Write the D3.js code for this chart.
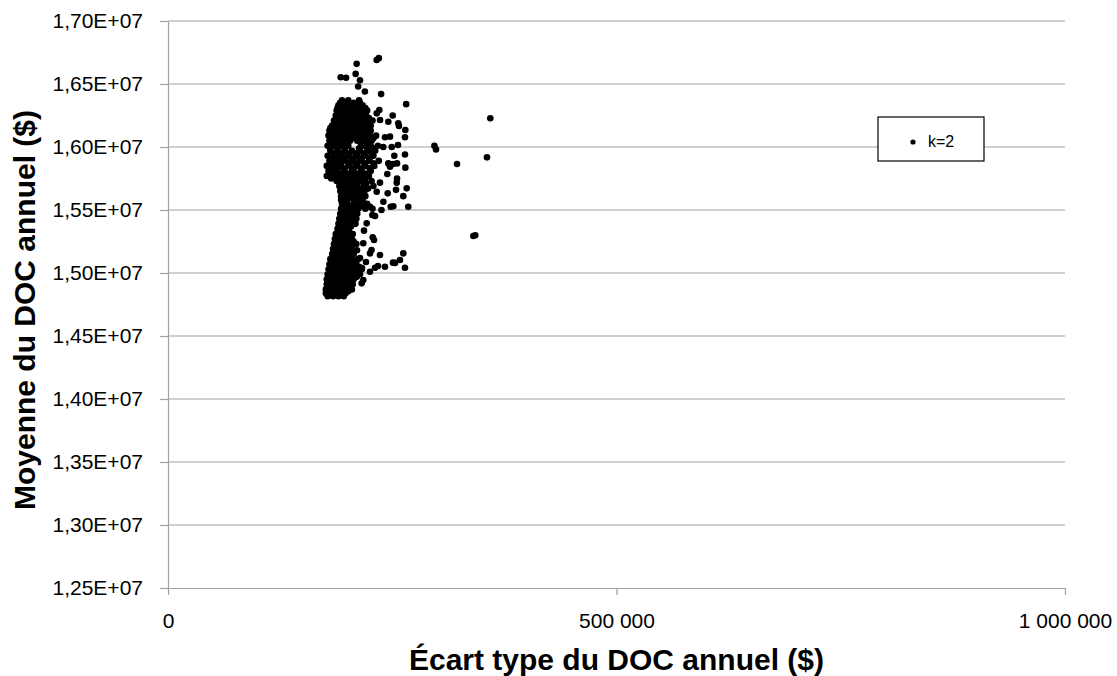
<!DOCTYPE html>
<html>
<head>
<meta charset="utf-8">
<script src="https://cdn.jsdelivr.net/npm/d3@7"></script>
<style>
  body { margin: 0; background: #fff; }
  svg { display: block; font-family: "Liberation Sans", Arial, sans-serif; }
</style>
</head>
<body>
<script>
// axis ticks
var yTicks = [12.5e6, 13.0e6, 13.5e6, 14.0e6, 14.5e6, 15.0e6, 15.5e6, 16.0e6, 16.5e6, 17.0e6]
var xTicks = [0, 500000, 1000000]
var seriesName = "k=2"

// points: [ecart type (k$), moyenne (M$)]
var outliers = [
  [232.6, 16.69], [235, 16.705], [210.3, 16.66], [192.5, 16.553], [198.5, 16.55],
  [209.2, 16.58], [214, 16.53], [212, 16.48], [219.5, 16.44], [237.6, 16.42],
  [265.5, 16.34], [359.3, 16.228], [297, 16.01], [298.8, 15.98], [322.2, 15.865],
  [355.6, 15.918], [340.4, 15.294], [342.6, 15.30]
]

var rightSpread = [
  [264.6, 16.135], [256.7, 16.188], [257.5, 16.167], [250.5, 16.25], [245.6, 16.20],
  [235.6, 16.294], [232.7, 16.267], [236.4, 16.214], [247.5, 16.082], [241.9, 16.077],
  [249.4, 16.00], [240, 16.00], [264.2, 16.077], [256.4, 16.016], [264.2, 15.94],
  [252.3, 15.93], [255.3, 15.87], [250.8, 15.865], [264.6, 15.836], [245.6, 15.87],
  [247.5, 15.844], [244.5, 15.786], [255.3, 15.75], [255, 15.717], [266.1, 15.672],
  [262.3, 15.61], [254.2, 15.66], [244.9, 15.632], [236.3, 15.717], [232.7, 15.645],
  [240.1, 15.566], [248.3, 15.526], [251.2, 15.53], [267.9, 15.526], [238, 15.50],
  [227.8, 15.46], [230.8, 15.452], [225.2, 15.526], [221.5, 15.394], [218.5, 15.336],
  [228.2, 15.283], [229.7, 15.262], [217.7, 15.236], [226.9, 15.183], [225.2, 15.156],
  [236.3, 15.143], [241.9, 15.05], [253.1, 15.08], [250.8, 15.082], [262.3, 15.156],
  [264.2, 15.042], [258.6, 15.103], [234.1, 15.055], [230.8, 15.042], [225.2, 15.01],
  [215.9, 14.918], [217.7, 14.944], [210.3, 14.97], [220.7, 15.087], [214, 15.119],
  [210.7, 15.18], [216.3, 15.04]
]

// dense upper part, row by row: [moyenne (M$), ecarts types (k$)]
var upperRows = [
  [16.37, [194, 201, 213]],
  [16.35, [192, 199, 207, 214]],
  [16.33, [190, 196, 203, 210, 217]],
  [16.31, [189, 199, 206, 213, 220]],
  [16.29, [188, 195, 202, 209, 216, 222]],
  [16.27, [190, 197, 204, 211, 218]],
  [16.25, [187, 194, 200, 207, 214, 221]],
  [16.23, [188, 196, 203, 210, 217, 224]],
  [16.21, [185, 192, 199, 206, 213, 221, 228]],
  [16.19, [187, 194, 201, 208, 215, 223]],
  [16.17, [183, 190, 197, 204, 211, 219, 226]],
  [16.15, [181, 186, 194, 200, 207, 215, 222]],
  [16.13, [180, 187, 195, 203, 211, 218, 226]],
  [16.11, [183, 191, 199, 207, 214, 222]],
  [16.09, [179, 186, 193, 201, 209, 217, 225, 232]],
  [16.07, [182, 190, 197, 205, 213, 221, 229]],
  [16.05, [180, 187, 195, 203, 211, 219, 227]],
  [16.03, [183, 191, 199, 215, 223]],
  [16.01, [178, 185, 193, 201, 218, 226, 234]],
  [15.99, [181, 189, 197, 213, 222, 230]],
  [15.97, [181, 189, 197, 205, 214, 223, 231]],
  [15.95, [185, 193, 201, 209, 218, 227]],
  [15.93, [178, 186, 194, 202, 211, 220, 229]],
  [15.91, [182, 190, 198, 207, 216, 225]],
  [15.89, [180, 188, 196, 205, 214, 224, 235]],
  [15.87, [184, 192, 201, 209, 219, 229]],
  [15.85, [177, 185, 193, 202, 211, 220, 230]],
  [15.83, [181, 189, 197, 207, 216, 225]],
  [15.81, [179, 187, 196, 205, 215, 226]],
  [15.79, [183, 191, 200, 210, 220]],
  [15.77, [177, 186, 195, 204, 214, 224]],
  [15.75, [182, 192, 201, 210, 220]],
  [15.73, [188, 197, 206, 216, 227]],
  [15.71, [193, 202, 211, 221]],
  [15.69, [191, 199, 208, 218, 229]],
  [15.67, [195, 204, 213, 223]],
  [15.65, [192, 200, 209, 219]],
  [15.63, [196, 205, 214]],
  [15.61, [193, 201, 210, 220]],
  [15.595, [197, 205, 213]],
  [15.58, [193, 200, 208, 217]]
]

// stem and bottom blob
var lowerRows = [
  [15.55, [194, 200, 207, 214, 222]],
  [15.53, [197, 203, 210, 217]],
  [15.51, [193, 199, 205, 212, 220, 228]],
  [15.49, [196, 202, 208]],
  [15.47, [192, 198, 204, 211]],
  [15.45, [194, 200, 207]],
  [15.43, [191, 197, 203, 210]],
  [15.41, [193, 199, 205]],
  [15.39, [190, 196, 202, 209]],
  [15.37, [192, 198, 204]],
  [15.35, [189, 195, 201]],
  [15.33, [190, 196, 202]],
  [15.31, [187, 193, 199, 206]],
  [15.29, [189, 195, 201]],
  [15.27, [186, 192, 198, 205]],
  [15.25, [188, 194, 200, 207]],
  [15.23, [185, 191, 197, 203, 210]],
  [15.21, [187, 193, 199, 205]],
  [15.19, [184, 190, 196, 202]],
  [15.17, [186, 192, 198, 204]],
  [15.15, [183, 189, 195, 201, 207]],
  [15.13, [185, 191, 197, 203]],
  [15.11, [181, 187, 193, 199, 205, 212]],
  [15.09, [183, 189, 195, 201, 207]],
  [15.07, [180, 186, 192, 198, 204, 210]],
  [15.05, [182, 188, 194, 200, 206, 213]],
  [15.03, [179, 185, 191, 197, 203, 209, 216]],
  [15.01, [181, 187, 193, 199, 205, 211]],
  [14.99, [178, 184, 190, 196, 202, 208, 214]],
  [14.97, [180, 186, 192, 198, 204, 210]],
  [14.95, [177, 183, 189, 195, 201, 207]],
  [14.93, [179, 185, 191, 197, 203]],
  [14.91, [177, 182, 188, 194, 200, 206]],
  [14.89, [179, 184, 190, 196, 202]],
  [14.87, [176, 181, 187, 193, 199, 205]],
  [14.855, [178, 183, 189, 195, 201]],
  [14.84, [176, 181, 186, 192, 198]],
  [14.825, [181, 187, 193]],
  [14.815, [178, 184, 190, 196]]
]

var points = []
outliers.concat(rightSpread).forEach(function(p) {
  points.push({ sd: p[0] * 1000, mean: p[1] * 1e6 })
})
upperRows.concat(lowerRows).forEach(function(r) {
  r[1].forEach(function(s) {
    points.push({ sd: s * 1000, mean: r[0] * 1e6 })
  })
})

var W = 1117, H = 676
var margin = { left: 168, right: 52, top: 21, bottom: 88 }

var svg = d3.select("body").append("svg")
  .attr("width", W)
  .attr("height", H)

var x = d3.scaleLinear().domain([0, 1000000]).range([margin.left, W - margin.right])
var y = d3.scaleLinear().domain([12.5e6, 17.0e6]).range([H - margin.bottom, margin.top])

var frLocale = d3.formatLocale({ decimal: ",", thousands: "\u00a0", grouping: [3], currency: ["", " $"] })
var fmtX = frLocale.format(",d")
var fmtY = function(v) { return frLocale.format(".2f")(v / 1e7) + "E+07" }

// gridlines
svg.append("g")
  .selectAll("line")
  .data(yTicks.slice(1))
  .join("line")
  .attr("x1", x(0))
  .attr("x2", x(1000000))
  .attr("y1", d => y(d))
  .attr("y2", d => y(d))
  .attr("stroke", "#a0a0a0")
  .attr("stroke-width", 1.2)

// y axis
var gy = svg.append("g")
  .attr("transform", "translate(" + x(0) + ",0)")
  .call(d3.axisLeft(y).tickValues(yTicks).tickFormat(fmtY).tickSize(8).tickSizeOuter(0).tickPadding(17))
gy.selectAll("text").attr("font-size", 21).attr("fill", "#000").attr("font-family", "Liberation Sans, Arial, sans-serif")

// x axis
var gx = svg.append("g")
  .attr("transform", "translate(0," + y(12.5e6) + ")")
  .call(d3.axisBottom(x).tickValues(xTicks).tickFormat(fmtX).tickSize(7).tickSizeOuter(0).tickPadding(18))
gx.selectAll("text").attr("font-size", 21).attr("fill", "#000").attr("font-family", "Liberation Sans, Arial, sans-serif")

svg.selectAll(".domain, .tick line").attr("stroke", "#a0a0a0").attr("stroke-width", 1.2)

// points
svg.append("g")
  .selectAll("circle")
  .data(points)
  .join("circle")
  .attr("cx", d => x(d.sd))
  .attr("cy", d => y(d.mean))
  .attr("r", 3.3)
  .attr("fill", "#000")

// axis titles
svg.append("text")
  .attr("x", (x(0) + x(1000000)) / 2)
  .attr("y", 670)
  .attr("text-anchor", "middle")
  .attr("font-size", 30)
  .attr("font-weight", "bold")
  .text("Écart type du DOC annuel ($)")

svg.append("text")
  .attr("transform", "translate(35,310) rotate(-90)")
  .attr("text-anchor", "middle")
  .attr("font-size", 30)
  .attr("font-weight", "bold")
  .text("Moyenne du DOC annuel ($)")

// legend
var lg = svg.append("g").attr("transform", "translate(878,117)")
lg.append("rect")
  .attr("width", 106)
  .attr("height", 44)
  .attr("fill", "#fff")
  .attr("stroke", "#000")
  .attr("stroke-width", 1.2)
lg.append("circle").attr("cx", 35).attr("cy", 25).attr("r", 2.6).attr("fill", "#000")
lg.append("text").attr("x", 50).attr("y", 30).attr("font-size", 16).text(seriesName)
</script>
</body>
</html>
